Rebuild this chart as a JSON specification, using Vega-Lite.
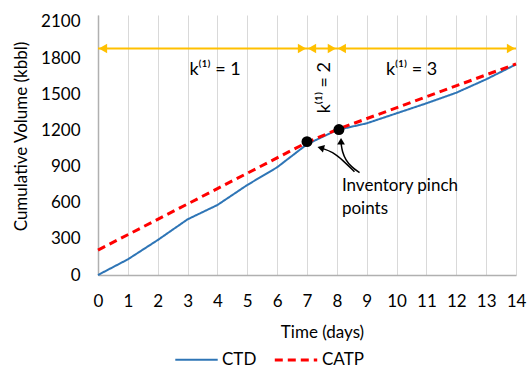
{
  "$schema": "https://vega.github.io/schema/vega-lite/v6.json",
  "width": 418,
  "height": 260,
  "autosize": {"type": "none"},
  "padding": {"left": 98, "top": 15, "right": 13, "bottom": 93},
  "background": "white",
  "config": {
    "view": {"stroke": null},
    "font": "Lato",
    "axis": {"labelFont": "Lato", "titleFont": "Lato", "labelColor": "#000000", "titleColor": "#000000", "titleFontWeight": "normal"},
    "legend": {"labelFont": "Lato"}
  },
  "datasets": {
    "series": [
      {"day": 0, "vol": 0, "series": "CTD"},
      {"day": 1, "vol": 130, "series": "CTD"},
      {"day": 2, "vol": 290, "series": "CTD"},
      {"day": 3, "vol": 462, "series": "CTD"},
      {"day": 4, "vol": 581, "series": "CTD"},
      {"day": 5, "vol": 747, "series": "CTD"},
      {"day": 6, "vol": 894, "series": "CTD"},
      {"day": 7, "vol": 1085, "series": "CTD"},
      {"day": 8, "vol": 1203, "series": "CTD"},
      {"day": 9, "vol": 1259, "series": "CTD"},
      {"day": 10, "vol": 1342, "series": "CTD"},
      {"day": 11, "vol": 1425, "series": "CTD"},
      {"day": 12, "vol": 1513, "series": "CTD"},
      {"day": 13, "vol": 1624, "series": "CTD"},
      {"day": 14, "vol": 1748, "series": "CTD"},
      {"day": 0, "vol": 207, "series": "CATP"},
      {"day": 7, "vol": 1100, "series": "CATP"},
      {"day": 8, "vol": 1207, "series": "CATP"},
      {"day": 14, "vol": 1752, "series": "CATP"}
    ],
    "vlines": [{"day": 7}, {"day": 8}, {"day": 14}],
    "arrowLeft": [{"day": 0, "vol": 1880}, {"day": 7, "vol": 1880}, {"day": 8, "vol": 1880}],
    "arrowRight": [{"day": 7, "vol": 1880}, {"day": 8, "vol": 1880}, {"day": 14, "vol": 1880}],
    "pinch": [{"day": 7, "vol": 1107}, {"day": 8.07, "vol": 1207}],
    "curves": [
      {"arrow": "a1", "ord": 1, "day": 8.59, "vol": 857},
      {"arrow": "a1", "ord": 2, "day": 8.19, "vol": 954},
      {"arrow": "a1", "ord": 3, "day": 7.86, "vol": 1021},
      {"arrow": "a1", "ord": 4, "day": 7.5, "vol": 1052},
      {"arrow": "a2", "ord": 1, "day": 8.76, "vol": 849},
      {"arrow": "a2", "ord": 2, "day": 8.48, "vol": 899},
      {"arrow": "a2", "ord": 3, "day": 8.3, "vol": 954},
      {"arrow": "a2", "ord": 4, "day": 8.18, "vol": 1023},
      {"arrow": "a2", "ord": 5, "day": 8.14, "vol": 1095}
    ],
    "heads": [
      {"day": 7.46, "vol": 1056, "ang": 285},
      {"day": 8.14, "vol": 1110, "ang": 0}
    ],
    "labels": [
      {"day": 3.92, "vol": 1700, "txt": "k⁽¹⁾ = 1"},
      {"day": 10.5, "vol": 1700, "txt": "k⁽¹⁾ = 3"}
    ],
    "note": [
      {"day": 8.17, "vol": 735, "txt": "Inventory pinch"},
      {"day": 8.17, "vol": 545, "txt": "points"}
    ]
  },
  "encoding": {
    "x": {
      "field": "day", "type": "quantitative",
      "scale": {"domain": [0, 14], "nice": false, "zero": false},
      "axis": {
        "title": "Time (days)", "values": [0,1,2,3,4,5,6,7,8,9,10,11,12,13,14],
        "grid": true, "gridColor": "#D9D9D9", "gridWidth": 1, "labelFlush": false,
        "ticks": false, "domainColor": "#B0B0B0", "domainWidth": 1.5,
        "labelFontSize": 17, "labelPadding": 18, "titleFontSize": 17,
        "titleX": 224, "titleY": 57, "titleBaseline": "middle", "titleAlign": "center"
      }
    },
    "y": {
      "field": "vol", "type": "quantitative",
      "scale": {"domain": [0, 2158], "nice": false},
      "axis": {
        "title": "Cumulative Volume (kbbl)", "values": [0,300,600,900,1200,1500,1800,2100], "format": "d",
        "grid": false, "ticks": false, "domainColor": "#B0B0B0", "domainWidth": 1.5,
        "labelFontSize": 17, "labelPadding": 18, "titleFontSize": 17,
        "titleX": -77, "titleY": 121, "titleBaseline": "middle", "titleAlign": "center", "titleAngle": 270
      }
    }
  },
  "layer": [
    {
      "data": {"name": "vlines"},
      "mark": {"type": "rule", "color": "#FFC000", "strokeWidth": 1.5, "strokeDash": [7, 3, 1.5, 3]},
      "encoding": {"y": {"datum": 0}, "y2": {"datum": 2100}}
    },
    {
      "data": {"values": [{"day": 0, "day2": 14, "vol": 1880}]},
      "mark": {"type": "rule", "color": "#FFC000", "strokeWidth": 2},
      "encoding": {"x2": {"field": "day2"}}
    },
    {
      "data": {"name": "arrowLeft"},
      "mark": {"type": "point", "shape": "triangle-left", "filled": true, "color": "#FFC000", "size": 90, "opacity": 1, "xOffset": 5}
    },
    {
      "data": {"name": "arrowRight"},
      "mark": {"type": "point", "shape": "triangle-right", "filled": true, "color": "#FFC000", "size": 90, "opacity": 1, "xOffset": -5}
    },
    {
      "data": {"name": "series"},
      "mark": {"type": "line"},
      "encoding": {
        "color": {
          "field": "series", "type": "nominal",
          "scale": {"domain": ["CTD", "CATP"], "range": ["#2E75B6", "#FF0000"]},
          "legend": {
            "title": null, "orient": "none", "direction": "horizontal",
            "legendX": 76, "legendY": 322, "symbolType": "stroke", "symbolSize": 1800,
            "symbolStrokeWidth": 2.5, "labelFontSize": 17, "columnPadding": 11, "labelOffset": 3
          }
        },
        "strokeDash": {
          "field": "series", "type": "nominal",
          "scale": {"domain": ["CTD", "CATP"], "range": [[1, 0], [8, 5]]},
          "legend": {
            "title": null, "orient": "none", "direction": "horizontal",
            "legendX": 76, "legendY": 322, "symbolType": "stroke", "symbolSize": 1800,
            "symbolStrokeWidth": 2.5, "labelFontSize": 17, "columnPadding": 11, "labelOffset": 3
          }
        },
        "strokeWidth": {
          "field": "series", "type": "ordinal",
          "scale": {"domain": ["CTD", "CATP"], "range": [2, 3]},
          "legend": null
        }
      }
    },
    {
      "data": {"name": "pinch"},
      "mark": {"type": "point", "shape": "circle", "filled": true, "color": "#000000", "size": 120, "opacity": 1}
    },
    {
      "data": {"name": "curves"},
      "mark": {"type": "line", "color": "#000000", "strokeWidth": 1.5, "interpolate": "basis"},
      "encoding": {"detail": {"field": "arrow"}, "order": {"field": "ord"}}
    },
    {
      "data": {"name": "heads"},
      "mark": {"type": "point", "shape": "triangle-up", "filled": true, "color": "#000000", "size": 60, "opacity": 1},
      "encoding": {"angle": {"field": "ang", "type": "quantitative", "scale": null}}
    },
    {
      "data": {"name": "labels"},
      "mark": {"type": "text", "fontSize": 18, "align": "center", "baseline": "middle", "color": "#000000"},
      "encoding": {"text": {"field": "txt"}}
    },
    {
      "data": {"values": [{"day": 7.6, "vol": 1555, "txt": "k⁽¹⁾ = 2"}]},
      "mark": {"type": "text", "fontSize": 18, "align": "center", "baseline": "middle", "angle": 270, "color": "#000000"},
      "encoding": {"text": {"field": "txt"}}
    },
    {
      "data": {"name": "note"},
      "mark": {"type": "text", "fontSize": 17, "align": "left", "baseline": "middle", "color": "#000000"},
      "encoding": {"text": {"field": "txt"}}
    }
  ]
}
